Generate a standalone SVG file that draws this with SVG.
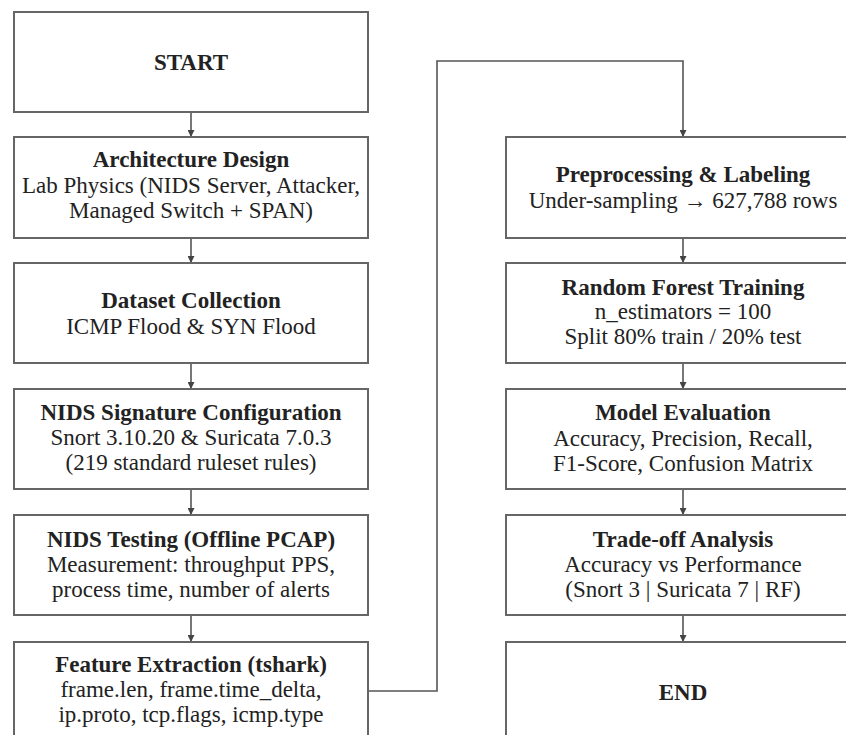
<svg xmlns="http://www.w3.org/2000/svg" width="846" height="735" viewBox="0 0 846 735">
<defs>
<marker id="ah" viewBox="0 0 10 10" refX="10" refY="5" markerWidth="7" markerHeight="7" markerUnits="userSpaceOnUse" orient="auto">
<path d="M0,0 L10,5 L0,10 z" fill="#444"/>
</marker>
<style>
.box{fill:#fff;stroke:#666;stroke-width:2}
.t{font-family:"Liberation Serif","Times New Roman",serif;font-size:23px;fill:#222;text-anchor:middle}
.b{font-weight:bold}
.c{fill:none;stroke:#555;stroke-width:1.6}
</style>
</defs>
<rect width="846" height="735" fill="#fff"/>
<g id="connectors">
<line class="c" x1="191" y1="112" x2="191" y2="137" marker-end="url(#ah)"/>
<line class="c" x1="191" y1="238" x2="191" y2="263" marker-end="url(#ah)"/>
<line class="c" x1="191" y1="363" x2="191" y2="389" marker-end="url(#ah)"/>
<line class="c" x1="191" y1="489" x2="191" y2="515" marker-end="url(#ah)"/>
<line class="c" x1="191" y1="615" x2="191" y2="642" marker-end="url(#ah)"/>
<polyline class="c" points="368,691 437,691 437,61 683,61 683,137" marker-end="url(#ah)"/>
<line class="c" x1="683" y1="238" x2="683" y2="263" marker-end="url(#ah)"/>
<line class="c" x1="683" y1="363" x2="683" y2="389" marker-end="url(#ah)"/>
<line class="c" x1="683" y1="489" x2="683" y2="515" marker-end="url(#ah)"/>
<line class="c" x1="683" y1="615" x2="683" y2="642" marker-end="url(#ah)"/>
</g>
<g id="start">
<rect class="box" x="14" y="12" width="354" height="100"/>
<text class="t b" x="191" y="70">START</text>
</g>
<g id="architecture">
<rect class="box" x="14" y="137" width="354" height="101"/>
<text class="t b" x="191" y="167">Architecture Design</text>
<text class="t" x="191" y="193">Lab Physics (NIDS Server, Attacker,</text>
<text class="t" x="191" y="218">Managed Switch + SPAN)</text>
</g>
<g id="dataset">
<rect class="box" x="14" y="263" width="354" height="100"/>
<text class="t b" x="191" y="308">Dataset Collection</text>
<text class="t" x="191" y="334">ICMP Flood &amp; SYN Flood</text>
</g>
<g id="signature">
<rect class="box" x="14" y="389" width="354" height="100"/>
<text class="t b" x="191" y="420">NIDS Signature Configuration</text>
<text class="t" x="191" y="445">Snort 3.10.20 &amp; Suricata 7.0.3</text>
<text class="t" x="191" y="470">(219 standard ruleset rules)</text>
</g>
<g id="testing">
<rect class="box" x="14" y="515" width="354" height="100"/>
<text class="t b" x="191" y="547">NIDS Testing (Offline PCAP)</text>
<text class="t" x="191" y="572">Measurement: throughput PPS,</text>
<text class="t" x="191" y="597">process time, number of alerts</text>
</g>
<g id="feature">
<rect class="box" x="14" y="642" width="354" height="100"/>
<text class="t b" x="191" y="672">Feature Extraction (tshark)</text>
<text class="t" x="191" y="697">frame.len, frame.time_delta,</text>
<text class="t" x="191" y="722">ip.proto, tcp.flags, icmp.type</text>
</g>
<g id="preprocessing">
<rect class="box" x="506" y="137" width="354" height="101"/>
<text class="t b" x="683" y="182">Preprocessing &amp; Labeling</text>
<text class="t" x="683" y="208">Under-sampling → 627,788 rows</text>
</g>
<g id="rf">
<rect class="box" x="506" y="263" width="354" height="100"/>
<text class="t b" x="683" y="295">Random Forest Training</text>
<text class="t" x="683" y="319">n_estimators = 100</text>
<text class="t" x="683" y="344">Split 80% train / 20% test</text>
</g>
<g id="evaluation">
<rect class="box" x="506" y="389" width="354" height="100"/>
<text class="t b" x="683" y="420">Model Evaluation</text>
<text class="t" x="683" y="446">Accuracy, Precision, Recall,</text>
<text class="t" x="683" y="471">F1-Score, Confusion Matrix</text>
</g>
<g id="tradeoff">
<rect class="box" x="506" y="515" width="354" height="100"/>
<text class="t b" x="683" y="547">Trade-off Analysis</text>
<text class="t" x="683" y="572">Accuracy vs Performance</text>
<text class="t" x="683" y="597">(Snort 3 | Suricata 7 | RF)</text>
</g>
<g id="end">
<rect class="box" x="506" y="642" width="354" height="100"/>
<text class="t b" x="683" y="700">END</text>
</g>
</svg>
